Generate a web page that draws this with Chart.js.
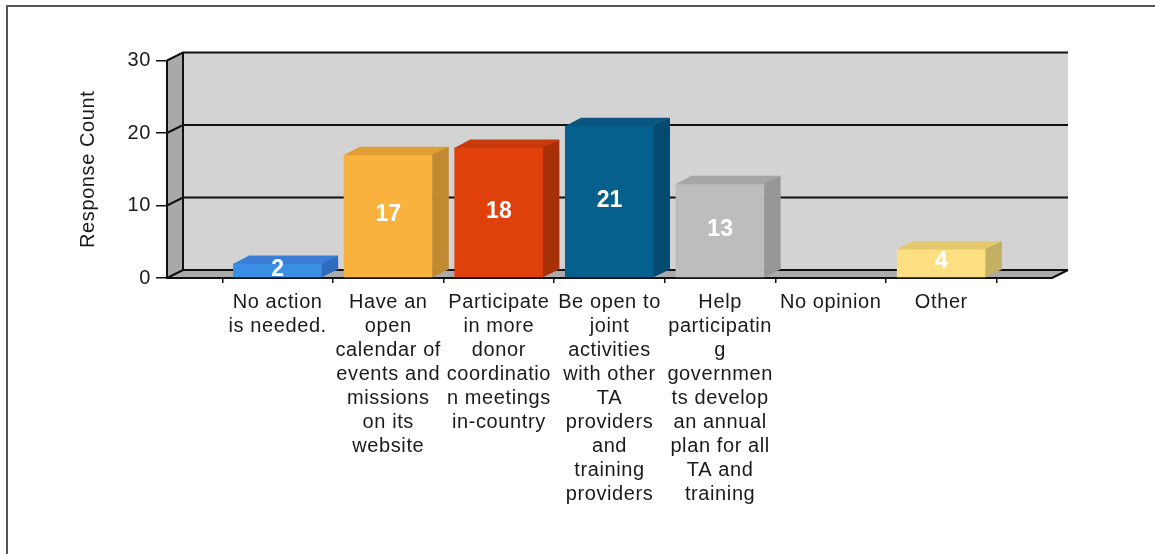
<!DOCTYPE html>
<html><head><meta charset="utf-8">
<script src="https://cdn.jsdelivr.net/npm/chart.js@4/dist/chart.umd.min.js"></script>
<style>html,body{margin:0;padding:0;background:#fff;}#wrap{position:relative;width:1155px;height:554px;}</style>
</head><body><div id="wrap"><canvas id="c" width="1155" height="554"></canvas></div>
<script>
const categories = [
  ["No action","is needed."],
  ["Have an","open","calendar of","events and","missions","on its","website"],
  ["Participate","in more","donor","coordinatio","n meetings","in-country"],
  ["Be open to","joint","activities","with other","TA","providers","and","training","providers"],
  ["Help","participatin","g","governmen","ts develop","an annual","plan for all","TA and","training"],
  ["No opinion"],
  ["Other"]
];
const responseCounts = [2, 17, 18, 21, 13, 0, 4];
const yMin = 0, yMax = 30, yStep = 10;
const frontColors = ["#3a8ee6","#f9b23e","#e0400c","#05608e","#bdbdbd","#bdbdbd","#fddf83"];
const topColors   = ["#3a7ed6","#e09f36","#c8390b","#0a5680","#a6a6a6","#a6a6a6","#e4c86e"];
const sideColors  = ["#2f6cbd","#c08a33","#a83008","#034a6e","#979797","#979797","#c4b063"];

const DX = 16, DY = 8;
const FONT = "'Liberation Sans', Arial, sans-serif";

const labels = [""].concat(categories, [""]);
const data = [null].concat(responseCounts, [null]);
const bg = ["rgba(0,0,0,0)"].concat(frontColors, ["rgba(0,0,0,0)"]);

const threeD = {
  id: 'threeD',
  beforeDraw(chart) {
    const ctx = chart.ctx;
    const {left, right, top, bottom} = chart.chartArea;
    const ys = chart.scales.y;
    ctx.save();
    ctx.fillStyle = '#555';
    ctx.fillRect(6, 5, chart.width - 6, 2);
    ctx.fillRect(6, 5, 2, chart.height - 5);
    ctx.fillStyle = '#a9a9a9';
    ctx.beginPath();
    ctx.moveTo(left, top); ctx.lineTo(left + DX, top - DY);
    ctx.lineTo(left + DX, bottom - DY); ctx.lineTo(left, bottom); ctx.closePath(); ctx.fill();
    ctx.fillStyle = '#d3d3d3';
    ctx.fillRect(left + DX, top - DY, right - left, bottom - top);
    ctx.fillStyle = '#ababab';
    ctx.beginPath();
    ctx.moveTo(left, bottom); ctx.lineTo(right, bottom);
    ctx.lineTo(right + DX, bottom - DY); ctx.lineTo(left + DX, bottom - DY); ctx.closePath(); ctx.fill();
    ctx.strokeStyle = '#111';
    ctx.lineWidth = 2;
    ys.ticks.forEach(t => {
      const py = ys.getPixelForValue(t.value);
      ctx.beginPath();
      ctx.moveTo(left, py); ctx.lineTo(left + DX, py - DY); ctx.lineTo(right + DX, py - DY);
      ctx.stroke();
    });
    ctx.beginPath();
    ctx.moveTo(left + DX, top - DY); ctx.lineTo(left + DX, bottom - DY);
    ctx.moveTo(right, bottom); ctx.lineTo(right + DX, bottom - DY);
    ctx.stroke();
    ctx.restore();
    ctx.letterSpacing = '0.6px';
  },
  afterDatasetsDraw(chart) {
    const ctx = chart.ctx;
    const meta = chart.getDatasetMeta(0);
    ctx.save();
    ctx.letterSpacing = '0px';
    meta.data.forEach((bar, i) => {
      const v = data[i];
      if (v === null || v === 0) return;
      const k = i - 1;
      const {x, y, base, width} = bar.getProps(['x','y','base','width'], true);
      const l = x - width / 2, r = x + width / 2;
      ctx.fillStyle = topColors[k];
      ctx.beginPath();
      ctx.moveTo(l, y + 0.5); ctx.lineTo(r, y + 0.5); ctx.lineTo(r + DX, y - DY); ctx.lineTo(l + DX, y - DY); ctx.closePath(); ctx.fill();
      ctx.fillStyle = sideColors[k];
      ctx.beginPath();
      ctx.moveTo(r - 0.5, y); ctx.lineTo(r + DX, y - DY); ctx.lineTo(r + DX, base - DY); ctx.lineTo(r - 0.5, base); ctx.closePath(); ctx.fill();
      ctx.fillStyle = '#fff';
      ctx.font = "bold 23px " + FONT;
      ctx.textAlign = 'center';
      ctx.textBaseline = 'middle';
      ctx.fillText(String(v), x, (y + base) / 2 - 1);
    });
    ctx.restore();
  }
};

new Chart(document.getElementById('c'), {
  type: 'bar',
  data: { labels: labels, datasets: [{ data: data, backgroundColor: bg, borderWidth: 0, categoryPercentage: 1, barPercentage: 0.805 }] },
  options: {
    responsive: false,
    animation: false,
    devicePixelRatio: 1,
    layout: { padding: { left: 0, right: 103, top: 60.5, bottom: 0 } },
    plugins: { legend: { display: false }, tooltip: { enabled: false } },
    font: { family: FONT },
    scales: {
      x: {
        offset: false,
        grid: { drawOnChartArea: false, drawTicks: true, tickLength: 5, color: '#111', lineWidth: 1.5 },
        border: { display: true, color: '#111', width: 2 },
        ticks: { autoSkip: false, maxRotation: 0, minRotation: 0, padding: 7, color: '#1a1a1a', font: { family: FONT, size: 20, lineHeight: 1.2 } },
        afterFit(s) { s.height = 276; }
      },
      y: {
        min: yMin, max: yMax,
        grid: { drawOnChartArea: false, drawTicks: true, tickLength: 11, color: '#111', lineWidth: 1.5 },
        border: { display: true, color: '#111', width: 2 },
        ticks: { stepSize: yStep, padding: 5, color: '#1a1a1a', font: { family: FONT, size: 20 } },
        title: { display: true, text: 'Response Count', color: '#1a1a1a', font: { family: FONT, size: 20, lineHeight: 1.2 }, padding: { top: 76, bottom: 0 } },
        afterFit(s) { s.width = 167; }
      }
    }
  },
  plugins: [threeD]
});
</script></body></html>
